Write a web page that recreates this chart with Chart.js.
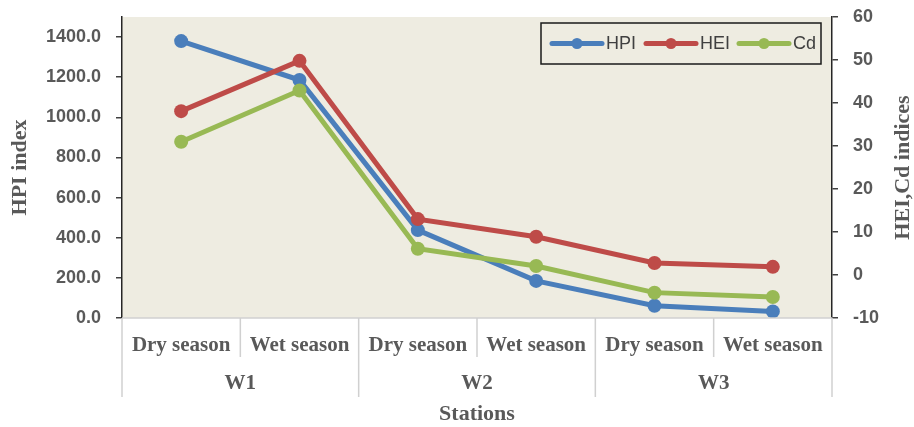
<!DOCTYPE html>
<html>
<head>
<meta charset="utf-8">
<script src="https://cdn.jsdelivr.net/npm/chart.js@4"></script>
<style>
  body { margin: 0; background: #fff; }
</style>
</head>
<body>
<canvas id="myChart" width="914" height="427"></canvas>
<script>
// data
const seasons = ['Dry season', 'Wet season', 'Dry season', 'Wet season', 'Dry season', 'Wet season'];
const stations = ['W1', 'W2', 'W3'];
const hpiValues = [1380, 1186, 438, 185, 61, 33];
const heiValues = [38.1, 49.8, 13.0, 8.9, 2.8, 1.9];
const cdValues = [31.0, 42.9, 6.1, 2.1, -4.1, -5.1];
const leftTicks = [0, 200, 400, 600, 800, 1000, 1200, 1400];
const rightTicks = [-10, 0, 10, 20, 30, 40, 50, 60];

const BLUE = '#4A7EBB', RED = '#BE4B48', GREEN = '#98B954';
const TXT = '#595959';
const SERIF = '"Liberation Serif", "Times New Roman", serif';
const SANS = '"Liberation Sans", Arial, sans-serif';

const customDraw = {
    id: 'customDraw',
    beforeDraw(chart) {
        const { ctx, chartArea: a } = chart;
        ctx.save();
        ctx.fillStyle = '#EEECE1';
        ctx.fillRect(a.left, a.top, a.right - a.left, a.bottom - a.top);
        ctx.restore();
    },
    afterDraw(chart) {
        const { ctx, chartArea: a } = chart;
        const x = chart.scales.x;
        ctx.save();

        // category separators
        ctx.strokeStyle = '#D0D0D0';
        ctx.lineWidth = 1.5;
        for (let i = 0; i <= seasons.length; i++) {
            let px;
            if (i === 0) px = a.left;
            else if (i === seasons.length) px = a.right;
            else px = (x.getPixelForValue(i - 1) + x.getPixelForValue(i)) / 2;
            const long = i % 2 === 0;
            ctx.beginPath();
            ctx.moveTo(px, a.bottom);
            ctx.lineTo(px, a.bottom + (long ? 79 : 39));
            ctx.stroke();
        }
        ctx.beginPath();
        ctx.moveTo(a.left, a.bottom);
        ctx.lineTo(a.right, a.bottom);
        ctx.stroke();

        // labels
        ctx.fillStyle = TXT;
        ctx.textAlign = 'center';
        ctx.textBaseline = 'middle';
        ctx.font = 'bold 21px ' + SERIF;
        seasons.forEach((s, i) => ctx.fillText(s, x.getPixelForValue(i), a.bottom + 28));
        stations.forEach((s, i) => {
            const cx = (x.getPixelForValue(i * 2) + x.getPixelForValue(i * 2 + 1)) / 2;
            ctx.fillText(s, cx, a.bottom + 66);
        });

        // axis titles
        ctx.font = 'bold 22px ' + SERIF;
        ctx.fillText('Stations', (a.left + a.right) / 2, 414);
        const cy = (a.top + a.bottom) / 2;
        ctx.save();
        ctx.translate(20, cy);
        ctx.rotate(-Math.PI / 2);
        ctx.fillText('HPI index', 0, 0);
        ctx.restore();
        ctx.save();
        ctx.translate(903, cy);
        ctx.rotate(-Math.PI / 2);
        ctx.fillText('HEI,Cd indices', 0, 0);
        ctx.restore();

        // legend box
        ctx.fillStyle = '#EEECE1';
        ctx.fillRect(541, 23, 280, 41);
        ctx.strokeStyle = '#1a1a1a';
        ctx.lineWidth = 1.5;
        ctx.strokeRect(541, 23, 280, 41);
        ctx.font = '18px ' + SANS;
        ctx.textAlign = 'left';
        const ly = 43.5;
        const items = chart.data.datasets.map(d => ({ label: d.label, color: d.borderColor }));
        const starts = [552, 646, 739];
        items.forEach((it, i) => {
            const sx = starts[i];
            ctx.strokeStyle = it.color;
            ctx.lineWidth = 5;
            ctx.lineCap = 'round';
            ctx.beginPath();
            ctx.moveTo(sx, ly);
            ctx.lineTo(sx + 50, ly);
            ctx.stroke();
            ctx.fillStyle = it.color;
            ctx.beginPath();
            ctx.arc(sx + 25, ly, 5.5, 0, Math.PI * 2);
            ctx.fill();
            ctx.fillStyle = '#404040';
            ctx.fillText(it.label, sx + 54, ly + 1);
        });
        ctx.restore();
    }
};

function noPad(s) {
    s.paddingTop = 0;
    s.paddingBottom = 0;
}

const ctx = document.getElementById('myChart').getContext('2d');
new Chart(ctx, {
    type: 'line',
    data: {
        labels: seasons,
        datasets: [
            { label: 'HPI', data: hpiValues, yAxisID: 'y', borderColor: BLUE, backgroundColor: BLUE, order: 2 },
            { label: 'HEI', data: heiValues, yAxisID: 'y1', borderColor: RED, backgroundColor: RED, order: 1 },
            { label: 'Cd', data: cdValues, yAxisID: 'y1', borderColor: GREEN, backgroundColor: GREEN, order: 0 }
        ]
    },
    options: {
        responsive: false,
        animation: false,
        layout: { padding: { top: 17, left: 0, right: 0, bottom: 0 } },
        elements: {
            line: { borderWidth: 5, tension: 0 },
            point: { radius: 7, borderWidth: 0 }
        },
        plugins: {
            legend: { display: false },
            tooltip: { enabled: false }
        },
        scales: {
            x: {
                offset: true,
                grid: { display: false },
                border: { display: false },
                ticks: { display: false },
                afterFit: s => { s.height = 427 - 318; s.paddingLeft = 0; s.paddingRight = 0; }
            },
            y: {
                position: 'left',
                min: 0,
                max: 1500,
                afterBuildTicks: s => { s.ticks = leftTicks.map(v => ({ value: v })); },
                afterFit: s => { s.width = 122; noPad(s); },
                grid: { drawOnChartArea: false, drawTicks: true, tickLength: 6, color: '#404040', lineWidth: 1.5 },
                border: { display: true, color: '#262626', width: 1.5 },
                ticks: {
                    padding: 15,
                    color: TXT,
                    font: { family: SANS, size: 18, weight: 'bold' },
                    callback: v => Number(v).toFixed(1)
                }
            },
            y1: {
                position: 'right',
                min: -10,
                max: 60,
                afterBuildTicks: s => { s.ticks = rightTicks.map(v => ({ value: v })); },
                afterFit: s => { s.width = 914 - 832; noPad(s); },
                grid: { drawOnChartArea: false, drawTicks: true, tickLength: 6, color: '#404040', lineWidth: 1.5 },
                border: { display: true, color: '#262626', width: 1.5 },
                ticks: {
                    padding: 15,
                    color: TXT,
                    font: { family: SANS, size: 18, weight: 'bold' }
                }
            }
        }
    },
    plugins: [customDraw]
});
</script>
</body>
</html>
